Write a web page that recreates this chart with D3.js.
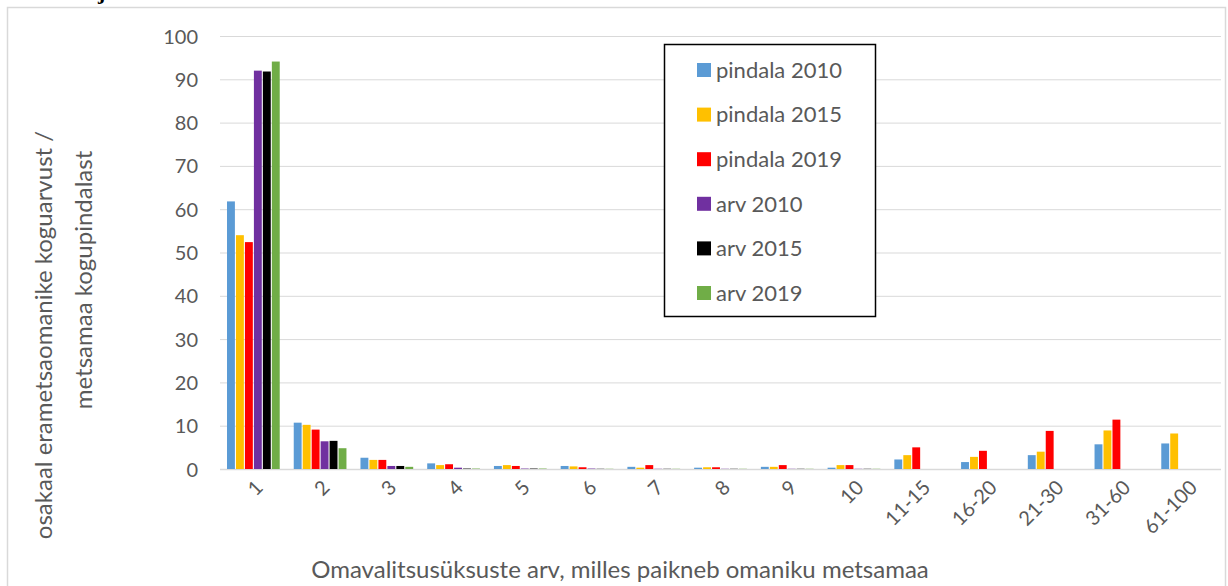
<!DOCTYPE html>
<html lang="et">
<head>
  <meta charset="UTF-8">
  <script src="https://d3js.org/d3.v7.min.js"></script>
  <title>Omavalitsusüksuste arv</title>
  <style>
    body {
      margin: 0;
      background: #fff;
      font-family: Lato, "Open Sans", sans-serif;
      overflow: hidden;
    }
    text { fill: #595959; }
  </style>
</head>
<body>
<script>
  // Data
  const categories = ["1", "2", "3", "4", "5", "6", "7", "8", "9", "10",
    "11-15", "16-20", "21-30", "31-60", "61-100"];
  const seriesNames = ["pindala 2010", "pindala 2015", "pindala 2019", "arv 2010", "arv 2015", "arv 2019"];
  const seriesColors = ["#5B9BD5", "#FFC000", "#FF0000", "#7030A0", "#000000", "#70AD47"];

  const pindala2010 = [61.8, 10.7, 2.6, 1.3, 0.7, 0.7, 0.5, 0.3, 0.5, 0.3, 2.2, 1.6, 3.2, 5.7, 5.9];
  const pindala2015 = [54.0, 10.2, 2.1, 0.9, 0.9, 0.6, 0.3, 0.4, 0.5, 0.9, 3.2, 2.8, 4.0, 8.9, 8.2];
  const pindala2019 = [52.4, 9.1, 2.1, 1.1, 0.7, 0.4, 0.9, 0.4, 0.9, 0.9, 5.0, 4.2, 8.8, 11.4, 0];
  const arv2010 = [92.0, 6.4, 0.7, 0.3, 0.1, 0.1, 0.05, 0.05, 0.05, 0.05, 0, 0, 0, 0, 0];
  const arv2015 = [91.8, 6.5, 0.7, 0.1, 0.1, 0.05, 0.05, 0.05, 0.05, 0.05, 0, 0, 0, 0, 0];
  const arv2019 = [94.1, 4.8, 0.5, 0.1, 0.1, 0.05, 0.05, 0.05, 0.05, 0.05, 0, 0, 0, 0, 0];
  const seriesValues = [pindala2010, pindala2015, pindala2019, arv2010, arv2015, arv2019];

  const yTicks = [0, 10, 20, 30, 40, 50, 60, 70, 80, 90, 100];

  const width = 1228, height = 586;
  const svg = d3.select("body").append("svg")
    .attr("width", width)
    .attr("height", height);

  // chart frame (cut off at the bottom)
  svg.append("rect")
    .attr("x", 7.5).attr("y", 7.5)
    .attr("width", 1218).attr("height", 600)
    .attr("fill", "none")
    .attr("stroke", "#d9d9d9")
    .attr("stroke-width", 1.5);

  // bit of text above the frame
  svg.append("text")
    .attr("x", 98).attr("y", -1)
    .style("font-family", "'Liberation Serif', serif")
    .style("font-weight", "bold")
    .style("font-size", "22px")
    .style("fill", "#000")
    .text("j");

  const plot = { left: 220, right: 1221, top: 36, bottom: 469 };

  const x = d3.scaleBand()
    .domain(categories)
    .range([plot.left, plot.right])
    .paddingInner(0.21)
    .paddingOuter(0.105);

  const xs = d3.scaleBand()
    .domain(seriesNames)
    .range([0, x.bandwidth()])
    .paddingInner(0.12);

  const y = d3.scaleLinear()
    .domain([0, 100])
    .range([plot.bottom, plot.top]);

  // gridlines
  svg.append("g")
    .selectAll("line")
    .data(yTicks)
    .join("line")
    .attr("x1", plot.left).attr("x2", plot.right)
    .attr("y1", d => y(d) + 0.5).attr("y2", d => y(d) + 0.5)
    .attr("stroke", "#d9d9d9")
    .attr("stroke-width", d => d === 0 ? 1.5 : 1);

  // y axis labels
  const yAxis = svg.append("g")
    .attr("transform", `translate(${plot.left - 22},0)`)
    .call(d3.axisLeft(y).tickValues(yTicks).tickSize(0).tickPadding(0));
  yAxis.select(".domain").remove();
  yAxis.selectAll("text")
    .attr("dy", "0.35em")
    .style("font-family", "Lato, sans-serif")
    .style("font-size", "20px")
    .style("fill", "#595959");

  // bars
  const groups = svg.append("g")
    .selectAll("g")
    .data(categories)
    .join("g")
    .attr("transform", d => `translate(${x(d)},0)`);

  groups.selectAll("rect")
    .data((c, i) => seriesNames.map((s, k) => ({ s, v: seriesValues[k][i], color: seriesColors[k] })))
    .join("rect")
    .attr("x", d => xs(d.s))
    .attr("width", xs.bandwidth())
    .attr("y", d => y(d.v))
    .attr("height", d => y(0) - y(d.v))
    .attr("fill", d => d.color);

  // x axis labels
  const xAxis = svg.append("g")
    .attr("transform", `translate(0,${plot.bottom + 10})`)
    .call(d3.axisBottom(x).tickSize(0).tickPadding(0));
  xAxis.select(".domain").remove();
  xAxis.selectAll("text")
    .attr("text-anchor", "end")
    .attr("dy", "0.7em")
    .attr("transform", "translate(1,0) rotate(-45)")
    .style("font-family", "Lato, sans-serif")
    .style("font-size", "20px")
    .style("fill", "#595959");

  // axis titles
  svg.append("text")
    .attr("x", 620).attr("y", 578)
    .attr("text-anchor", "middle")
    .style("font-size", "24px")
    .text("Omavalitsusüksuste arv, milles paikneb omaniku metsamaa");

  svg.append("text")
    .attr("transform", "translate(52,335) rotate(-90)")
    .attr("text-anchor", "middle")
    .style("font-size", "24px")
    .text("osakaal erametsaomanike koguarvust /");
  svg.append("text")
    .attr("transform", "translate(92,280) rotate(-90)")
    .attr("text-anchor", "middle")
    .style("font-size", "24px")
    .text("metsamaa kogupindalast");

  // legend
  const legend = svg.append("g").attr("transform", "translate(664,44)");
  legend.append("rect")
    .attr("x", 0.5).attr("y", 0.5)
    .attr("width", 211).attr("height", 272)
    .attr("fill", "#fff")
    .attr("stroke", "#000")
    .attr("stroke-width", 1.5);

  const item = legend.selectAll(".legend-item")
    .data(seriesNames)
    .join("g")
    .attr("class", "legend-item")
    .attr("transform", (d, i) => `translate(33,${26 + i * 44.6})`);
  item.append("rect")
    .attr("x", 0).attr("y", -7)
    .attr("width", 14).attr("height", 14)
    .attr("fill", (d, i) => seriesColors[i]);
  item.append("text")
    .attr("x", 19).attr("y", 0)
    .attr("dy", "0.35em")
    .style("font-size", "22px")
    .text(d => d);
</script>
</body>
</html>
